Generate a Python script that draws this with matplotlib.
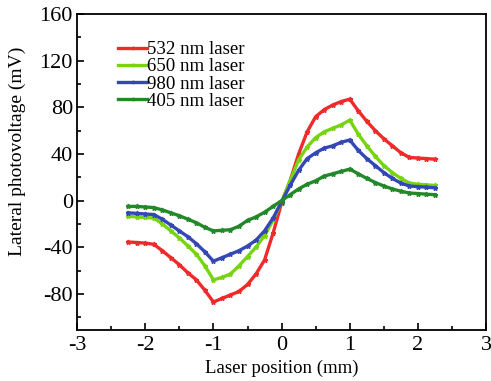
import numpy as np
import matplotlib.pyplot as plt
from matplotlib.ticker import MultipleLocator

plt.rcParams['font.family'] = ['Liberation Serif', 'DejaVu Serif']
plt.rcParams['axes.unicode_minus'] = False

## data
position = [-2.25, -2.125, -2.0, -1.875, -1.75, -1.625, -1.5, -1.375, -1.25, -1.125,
            -1.0, -0.875, -0.75, -0.625, -0.5, -0.375, -0.25, -0.125, 0.0,
            0.125, 0.25, 0.375, 0.5, 0.625, 0.75, 0.875, 1.0, 1.125, 1.25,
            1.375, 1.5, 1.625, 1.75, 1.875, 2.0, 2.125, 2.25]

lpv_532 = [-35.5, -36, -36.5, -37.5, -43, -49, -55, -62, -68, -77,
           -87, -84, -81, -78, -72, -63, -51, -28, -2,
           17, 40, 59, 72, 78, 82, 85, 87, 77, 68,
           60, 53, 47, 41, 37, 36.5, 36, 35.5]
lpv_650 = [-13.5, -14, -14.5, -15, -20, -26, -32, -39, -46, -56,
           -68, -66, -63, -56, -48, -40, -30, -17, -1,
           17, 35, 46, 54, 59, 62, 65, 69, 57, 47,
           38, 30, 24, 19, 15, 14, 13.5, 13]
lpv_980 = [-10.5, -11, -11.5, -12, -16, -21, -26, -31, -37, -44,
           -52, -49, -46, -43, -39, -34, -26, -15, -1,
           13, 26, 36, 41, 45, 47, 50, 52, 43, 36,
           30, 24, 19, 15, 12.5, 12, 11.5, 11]
lpv_405 = [-5, -5, -5.5, -6, -8, -10.5, -13, -16, -19, -23,
           -26, -25.5, -25, -22, -17, -14, -10, -5, 0,
           5, 10, 14, 17, 21, 23, 25, 27, 23, 19,
           15.5, 12.5, 10, 8, 6.5, 6, 5.5, 5]

series = [("532 nm laser", lpv_532, "#ee2a2a"),
          ("650 nm laser", lpv_650, "#77d411"),
          ("980 nm laser", lpv_980, "#3347b5"),
          ("405 nm laser", lpv_405, "#23882a")]

fig = plt.figure(figsize=(4.91, 3.81), dpi=100)
ax = fig.add_axes([0.157, 0.134, 0.833, 0.829])

for label, vals, col in series:
    ax.plot(position, vals, color=col, lw=2.4, marker='*', ms=3.5, label=label)

ax.set_xlim(-3, 3)
ax.set_ylim(-111, 160)
ax.xaxis.set_major_locator(MultipleLocator(1))
ax.xaxis.set_minor_locator(MultipleLocator(0.5))
ax.yaxis.set_major_locator(MultipleLocator(40))
ax.yaxis.set_minor_locator(MultipleLocator(20))
ax.tick_params(which='both', direction='in', top=False, right=False, labelsize=16)
ax.tick_params(which='major', length=5, width=1.2)
ax.tick_params(axis='x', which='major', pad=4)
ax.tick_params(axis='y', which='major', pad=3)
ax.tick_params(which='minor', length=3, width=1.2)
for s in ax.spines.values():
    s.set_linewidth(1.3)

ax.set_xlabel("Laser position (mm)", fontsize=13.5, labelpad=4)
ax.set_ylabel("Lateral photovoltage (mV)", fontsize=14)
ax.yaxis.set_label_coords(-0.125, 0.565)

ax.legend(loc='upper left', bbox_to_anchor=(0.1, 0.915), frameon=False,
          fontsize=13.6, handlelength=1.55, handletextpad=0.0,
          labelspacing=0.0, borderaxespad=0, borderpad=0, markerscale=0.7)

fig.savefig("out.png", dpi=100)
